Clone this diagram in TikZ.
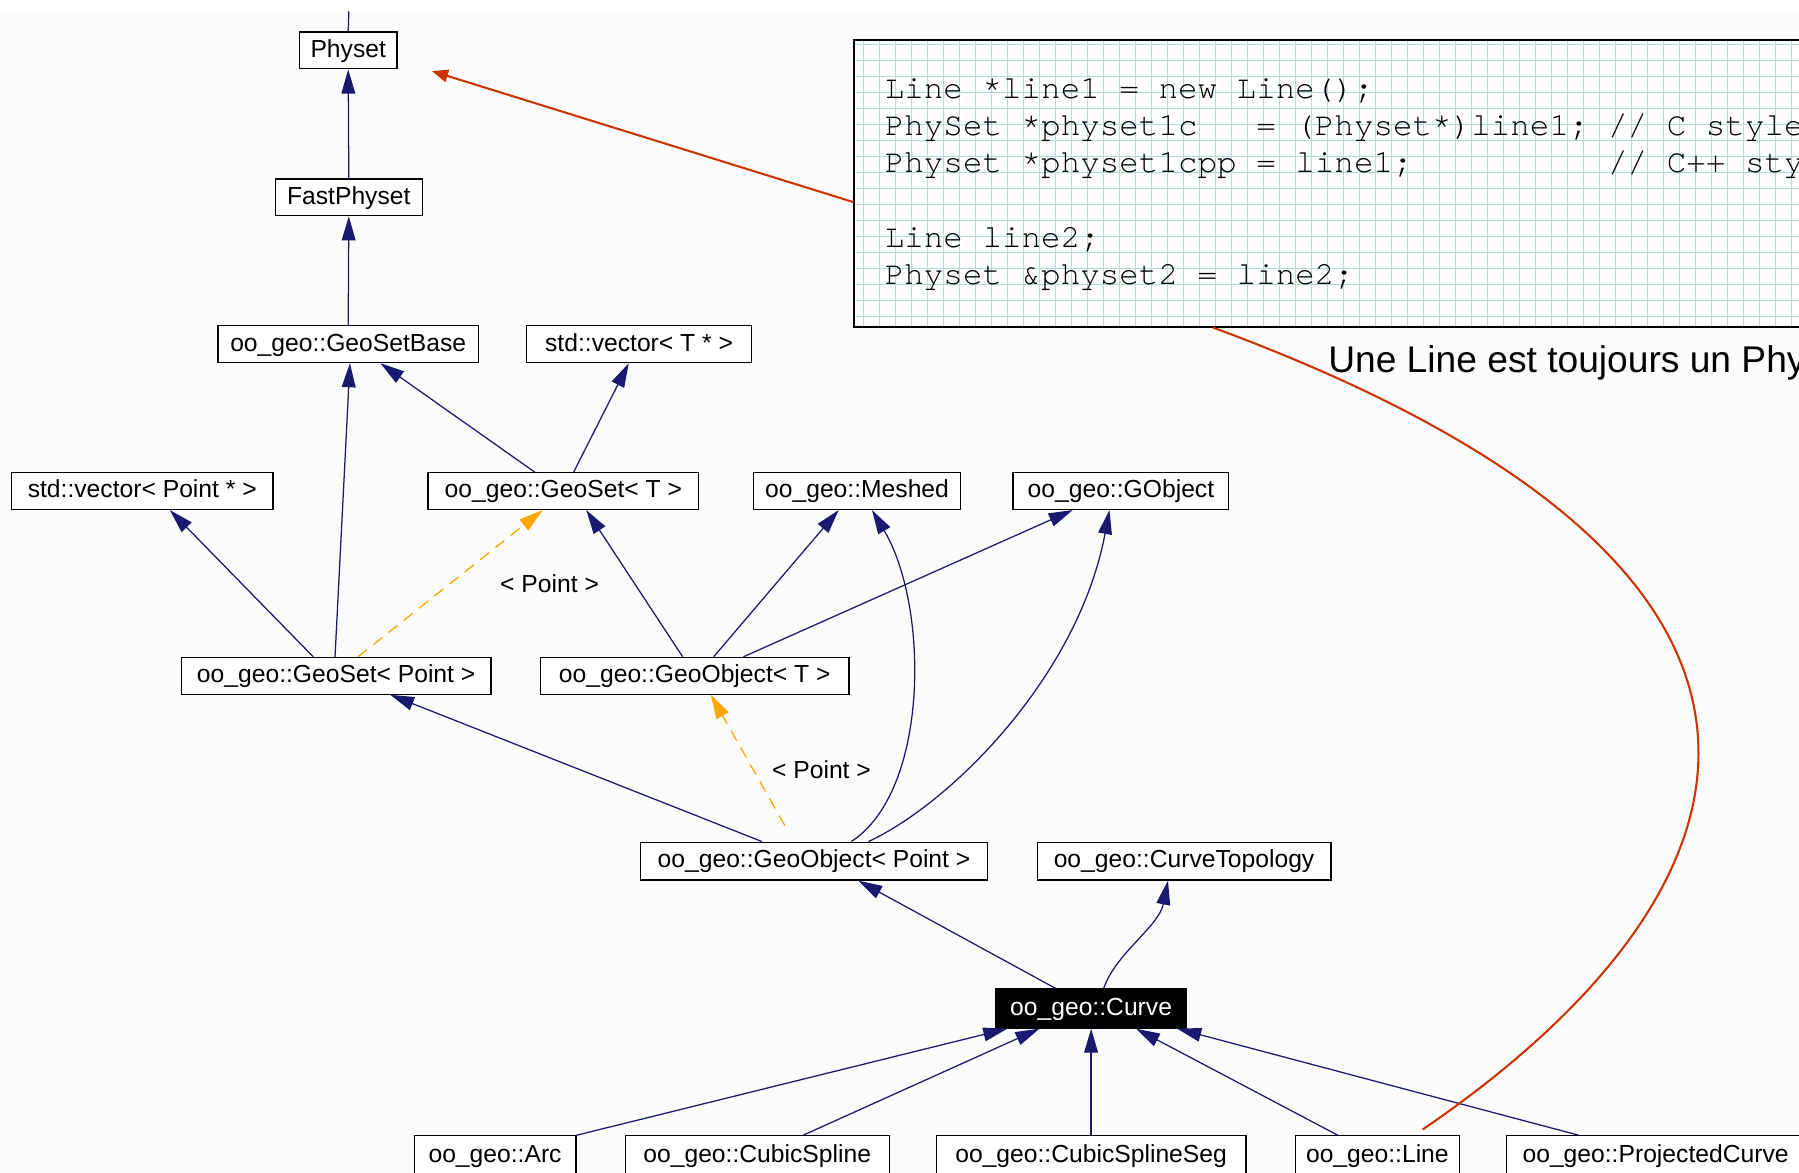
\documentclass[tikz,border=0pt]{standalone}
\usepackage{fontspec}
\usetikzlibrary{arrows.meta,calc}
\newfontfamily\lsans{Liberation Sans}
\newfontfamily\lmono{texgyrecursor-regular.otf}
\definecolor{edgeblue}{RGB}{25,25,112}
\definecolor{dashor}{RGB}{255,165,0}
\definecolor{redln}{RGB}{204,51,0}
\definecolor{gridc}{RGB}{176,221,224}
\definecolor{bgc}{RGB}{252,252,252}
\tikzset{
  cls/.style={draw=black, line width=1.1pt, fill=white, font=\lsans\fontsize{21.5}{24}\selectfont,
    minimum height=32pt, inner sep=0pt, text height=16pt, text depth=4pt},
  inh/.style={draw=edgeblue, line width=1.1pt, -{Triangle[length=21pt,width=12pt]}},
  plainedge/.style={draw=edgeblue, line width=1.1pt},
  tmpl/.style={draw=dashor, line width=1.1pt, dash pattern=on 10pt off 7pt, -{Triangle[length=21pt,width=12pt]}},
  note/.style={draw=redln, line width=1.8pt},
  lbl/.style={font=\lsans\fontsize{21.5}{24}\selectfont, inner sep=0pt},
  codet/.style={anchor=base west, inner sep=0pt, font=\lmono\fontsize{28.4}{32}\selectfont},
  gridln/.style={draw=gridc, line width=0.9pt}
}
\begin{document}
\begin{tikzpicture}[x=1pt,y=-1pt]
\useasboundingbox (0,0) rectangle (1568,1022);
\clip (0,0) rectangle (1568,1022);
\fill[bgc] (0,0) rectangle (1568,1022);
\fill[white] (0,0) rectangle (1568,9.6);

% code box
\node[fill=white, minimum width=900pt, minimum height=250pt, anchor=north west, inner sep=0pt] (code) at (744,35) {};
\begin{scope}
  \clip (code.north west) rectangle (code.south east);
  \foreach \i in {0,...,64} { \draw[gridln] ({752.5+13.95*\i},35) -- ++(0,250); }
  \foreach \j in {0,...,17} { \draw[gridln] (744,{38.4+13.95*\j}) -- ++(900,0); }
\end{scope}
\draw[black, line width=1.8pt] (code.north west) rectangle (code.south east);
\node[codet] (c1) at (771,85.5) {Line *line1 = new Line();};
\node[codet] (c2) at (771,118) {PhySet *physet1c~~~= (Physet*)line1; // C style};
\node[codet] (c3) at (771,150.5) {Physet *physet1cpp = line1;~~~~~~~~~~// C++ style};
\node[codet] (c4) at (771,215.5) {Line line2;};
\node[codet] (c5) at (771,248) {Physet \&physet2 = line2;};

\node[anchor=base west, inner sep=0pt, font=\lsans\fontsize{32.4}{37}\selectfont] (note) at (1157.5,325) {Une Line est toujours un Physet};

% class nodes
\node[cls, minimum width=85pt]  (phy) at (303.5,44) {Physet};
\node[cls, minimum width=128pt] (fph) at (304,172) {FastPhyset};
\node[cls, minimum width=227pt] (gsb) at (303.5,300) {oo\_geo::GeoSetBase};
\node[cls, minimum width=196pt] (svt) at (557,300) {std::vector< T * >};
\node[cls, minimum width=228pt] (svp) at (124,428) {std::vector< Point * >};
\node[cls, minimum width=236pt] (gst) at (491,428) {oo\_geo::GeoSet< T >};
\node[cls, minimum width=180pt] (msh) at (747,428) {oo\_geo::Meshed};
\node[cls, minimum width=188pt] (gob) at (977,428) {oo\_geo::GObject};
\node[cls, minimum width=270pt] (gsp) at (293,589) {oo\_geo::GeoSet< Point >};
\node[cls, minimum width=269pt] (got) at (605.5,589) {oo\_geo::GeoObject< T >};
\node[cls, minimum width=303pt, minimum height=33pt] (gop) at (709.5,750.5) {oo\_geo::GeoObject< Point >};
\node[cls, minimum width=256pt, minimum height=33pt] (ctp) at (1032,750.5) {oo\_geo::CurveTopology};
\node[cls, minimum width=166pt, minimum height=34pt, fill=black, text=white] (crv) at (951,879) {oo\_geo::Curve};
\node[cls, minimum width=141pt, minimum height=34pt] (arc) at (431.5,1007) {oo\_geo::Arc};
\node[cls, minimum width=230pt, minimum height=34pt] (csp) at (660,1007) {oo\_geo::CubicSpline};
\node[cls, minimum width=270pt, minimum height=34pt] (css) at (951,1007) {oo\_geo::CubicSplineSeg};
\node[cls, minimum width=143pt, minimum height=34pt] (lin) at (1200.5,1007) {oo\_geo::Line};
\node[cls, minimum width=260pt, minimum height=34pt] (prj) at (1443,1007) {oo\_geo::ProjectedCurve};

\coordinate (phyup) at (304,10);
\draw[plainedge] (phy.north) -- (phyup);

% inheritance edges
\draw[inh] (fph.north) -- (phy.south);
\draw[inh] (gsb.north) -- (fph.south);
\draw[inh] ([xshift=-25pt]gst.north) -- ([xshift=28pt]gsb.south);
\draw[inh] ([xshift=9pt]gst.north) -- ([xshift=-9pt]svt.south);
\draw[inh] ([xshift=-1pt]gsp.north) -- ([xshift=1.5pt]gsb.south);
\draw[inh] ([xshift=-20pt]gsp.north) -- ([xshift=24pt]svp.south);
\draw[tmpl] ([xshift=19pt]gsp.north) -- ([xshift=-18pt]gst.south);
\draw[inh] ([xshift=-10.5pt]got.north) -- ([xshift=20pt]gst.south);
\draw[inh] ([xshift=16.5pt]got.north) -- ([xshift=-16pt]msh.south);
\draw[inh] ([xshift=42.5pt]got.north) -- ([xshift=-42pt]gob.south);
\draw[inh] ([xshift=-45.5pt]gop.north) -- ([xshift=47pt]gsp.south);
\draw[tmpl] ([xshift=-25.5pt,yshift=14pt]gop.north) -- ([xshift=14pt]got.south);
\draw[inh] ([xshift=32.5pt]gop.north) .. controls +(68,-44) and +(50,84) .. ([xshift=13pt]msh.south);
\draw[inh] ([xshift=47.5pt]gop.north) .. controls +(73,-34) and +(-27,144) .. ([xshift=-10pt]gob.south);
\draw[inh] ([xshift=-31pt]crv.north) -- ([xshift=38.5pt]gop.south);
\draw[inh] ([xshift=11pt]crv.north) .. controls +(10,-30) and +(-8,40) .. ([xshift=-14pt]ctp.south);
\draw[inh] (arc.north east) -- ([xshift=-73pt]crv.south);
\draw[inh] ([xshift=40pt]csp.north) -- ([xshift=-45pt]crv.south);
\draw[inh] (css.north) -- (crv.south);
\draw[inh] ([xshift=-34.5pt]lin.north) -- ([xshift=39pt]crv.south);
\draw[inh] ([xshift=-67pt]prj.north) -- ([xshift=75pt]crv.south);

\node[lbl] (l1) at (479,509) {< Point >};
\node[lbl] (l2) at (716,671) {< Point >};

% red annotations
\draw[note, -{Triangle[length=14pt,width=11pt]}] ([yshift=-16pt]code.west) -- ([xshift=30pt,yshift=-18pt]phy.east);
\draw[note] ([xshift=313pt]code.south west) .. controls +(583,215) and +(300,-205) .. ([xshift=39.5pt,yshift=5pt]lin.north);
\end{tikzpicture}
\end{document}
